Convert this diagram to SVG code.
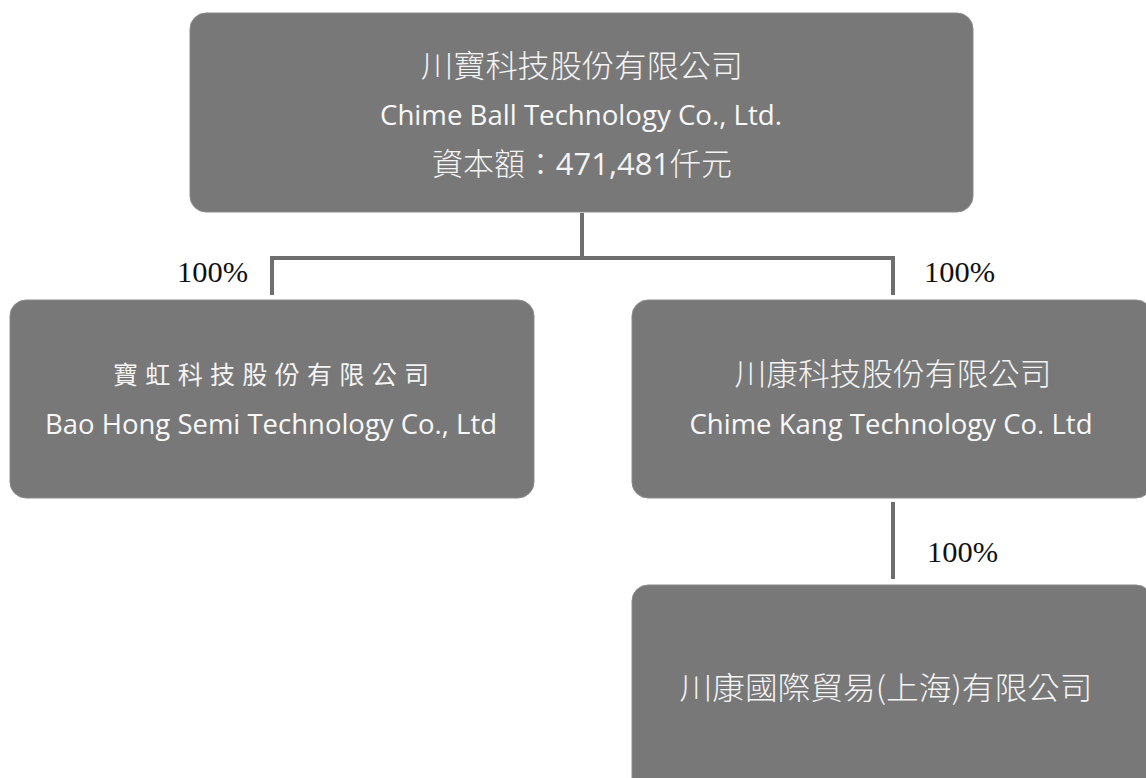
<svg xmlns="http://www.w3.org/2000/svg" width="1146" height="778" viewBox="0 0 1146 778">
<style>
.box{fill:#787878;stroke:#8a8a8a;stroke-width:1}
.zh{font-family:"Noto Sans CJK TC","Noto Sans CJK SC",sans-serif;font-size:31px;fill:#f4f4f4;text-anchor:middle;font-weight:300}
.zh2{font-family:"Noto Sans CJK TC","Noto Sans CJK SC",serif;font-size:25px;fill:#f4f4f4;text-anchor:middle;font-weight:400}
.en{font-family:"Open Sans","Liberation Sans",sans-serif;font-size:27px;fill:#f8f8f8;text-anchor:middle}
.pct{font-family:"Liberation Serif","DejaVu Serif",serif;font-size:30px;fill:#111}
.conn{fill:none;stroke:#6e6e6e;stroke-width:4}
</style>
<rect width="1146" height="778" fill="#ffffff"/>
<g id="connectors">
<path class="conn" d="M582,213 V258 M272,295 V258 H893 V295"/>
<path class="conn" d="M893,502 V579"/>
</g>
<g id="labels">
<text class="pct" x="177" y="282" textLength="71" lengthAdjust="spacingAndGlyphs">100%</text>
<text class="pct" x="924" y="282" textLength="71" lengthAdjust="spacingAndGlyphs">100%</text>
<text class="pct" x="927" y="562" textLength="71" lengthAdjust="spacingAndGlyphs">100%</text>
</g>
<g id="node-chime-ball">
<rect class="box" x="190" y="13" width="783" height="199" rx="16"/>
<text class="zh" x="582" y="77" textLength="322" lengthAdjust="spacingAndGlyphs">川寶科技股份有限公司</text>
<text class="en" x="581" y="125" textLength="402" lengthAdjust="spacingAndGlyphs">Chime Ball Technology Co., Ltd.</text>
<text class="zh" x="582" y="175" textLength="300" lengthAdjust="spacingAndGlyphs">資本額：<tspan font-family="Open Sans, Liberation Sans, sans-serif" font-weight="400">471,481</tspan>仟元</text>
</g>
<g id="node-bao-hong">
<rect class="box" x="10" y="300" width="524" height="198" rx="16"/>
<text class="zh2" x="271" y="384" textLength="316" lengthAdjust="spacing">寶虹科技股份有限公司</text>
<text class="en" x="271" y="434" textLength="452" lengthAdjust="spacingAndGlyphs">Bao Hong Semi Technology Co., Ltd</text>
</g>
<g id="node-chime-kang">
<rect class="box" x="632" y="300" width="520" height="198" rx="16"/>
<text class="zh" x="893" y="385" textLength="317" lengthAdjust="spacingAndGlyphs">川康科技股份有限公司</text>
<text class="en" x="891" y="434" textLength="403" lengthAdjust="spacingAndGlyphs">Chime Kang Technology Co. Ltd</text>
</g>
<g id="node-chime-kang-shanghai">
<rect class="box" x="632" y="585" width="520" height="210" rx="16"/>
<text class="zh" x="886" y="699" textLength="413" lengthAdjust="spacingAndGlyphs">川康國際貿易(上海)有限公司</text>
</g>
</svg>
